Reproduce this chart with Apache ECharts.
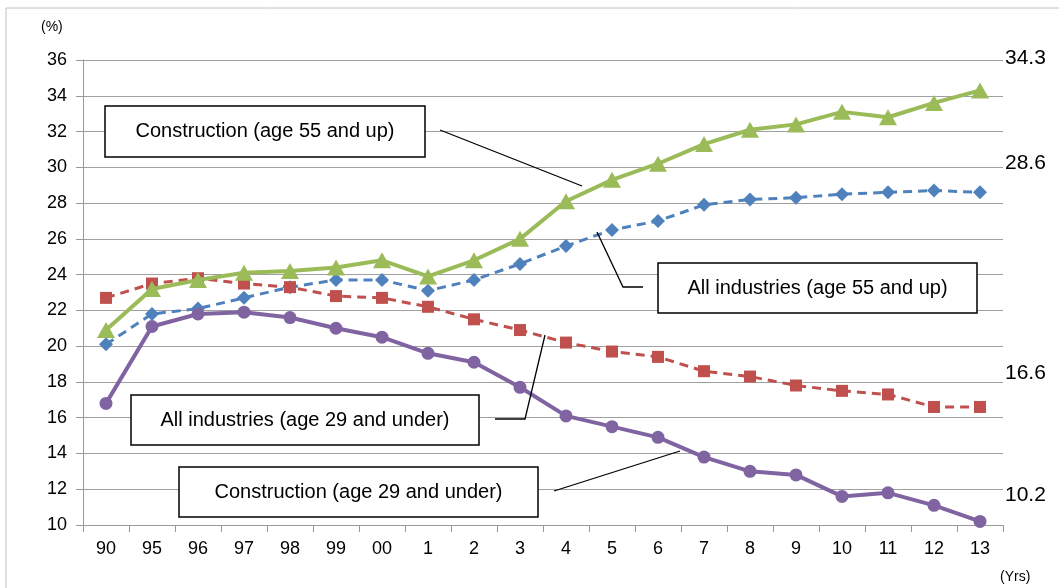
<!DOCTYPE html>
<html>
<head>
<meta charset="utf-8">
<script src="https://cdn.jsdelivr.net/npm/echarts@6/dist/echarts.min.js"></script>
<style>
html,body{margin:0;padding:0;background:#fff;}
#chart{width:1059px;height:588px;}
</style>
</head>
<body>
<div id="chart"></div>
<script>
const categories = ['90','95','96','97','98','99','00','1','2','3','4','5','6','7','8','9','10','11','12','13'];
const allIndustries55Up = [20.1,21.8,22.1,22.7,23.3,23.7,23.7,23.1,23.7,24.6,25.6,26.5,27.0,27.9,28.2,28.3,28.5,28.6,28.7,28.6];
const allIndustries29Under = [22.7,23.5,23.8,23.5,23.3,22.8,22.7,22.2,21.5,20.9,20.2,19.7,19.4,18.6,18.3,17.8,17.5,17.3,16.6,16.6];
const construction55Up = [20.9,23.2,23.7,24.1,24.2,24.4,24.8,23.9,24.8,26.0,28.1,29.3,30.2,31.3,32.1,32.4,33.1,32.8,33.6,34.3];
const construction29Under = [16.8,21.1,21.8,21.9,21.6,21.0,20.5,19.6,19.1,17.7,16.1,15.5,14.9,13.8,13.0,12.8,11.6,11.8,11.1,10.2];
const yTicks = {min:10, max:36, interval:2};

const FONT = '"Liberation Sans", Arial, sans-serif';
const chart = echarts.init(document.getElementById('chart'));

function endLbl(dy){
  return {show:true, formatter: p => String(p.value), color:'#000', fontSize:21, fontFamily:FONT, distance:0, offset:[25,dy]};
}
function box(x,y,w,h,text){
  return [
    {type:'rect', shape:{x:x,y:y,width:w,height:h}, style:{fill:'#fff', stroke:'#000', lineWidth:1.5}, z:100},
    {type:'text', x:x+w/2, y:y+h/2, style:{text:text, fill:'#000', font:'20px '+FONT, align:'center', verticalAlign:'middle'}, z:101}
  ];
}
function leader(points){
  return {type:'polyline', shape:{points:points}, style:{stroke:'#000', lineWidth:1.3, fill:null}, z:99};
}

const option = {
  animation:false,
  backgroundColor:'#fff',
  grid:{left:83, right:56, top:60, bottom:63, containLabel:false},
  xAxis:{
    type:'category', data:categories, boundaryGap:true,
    axisLine:{lineStyle:{color:'#999', width:1}},
    axisTick:{show:true, length:7, lineStyle:{color:'#999'}},
    axisLabel:{color:'#000', fontSize:18, fontFamily:FONT, margin:15}
  },
  yAxis:{
    type:'value', min:yTicks.min, max:yTicks.max, interval:yTicks.interval,
    axisLine:{show:true, lineStyle:{color:'#999', width:1}},
    axisTick:{show:true, length:7, lineStyle:{color:'#999'}},
    axisLabel:{color:'#000', fontSize:18, fontFamily:FONT, margin:16},
    splitLine:{lineStyle:{color:'#a0a0a0', width:1}}
  },
  series:[
    {name:'All industries (age 55 and up)', type:'line', data:allIndustries55Up,
     symbol:'diamond', symbolSize:14, lineStyle:{color:'#4F81BD', width:3, type:[9,6]}, itemStyle:{color:'#4F81BD'},
     endLabel:endLbl(-29), z:2},
    {name:'All industries (age 29 and under)', type:'line', data:allIndustries29Under,
     symbol:'rect', symbolSize:12, lineStyle:{color:'#C0504D', width:3, type:[9,6]}, itemStyle:{color:'#C0504D'},
     endLabel:endLbl(-34), z:3},
    {name:'Construction (age 55 and up)', type:'line', data:construction55Up,
     symbol:'triangle', symbolSize:[18,16], lineStyle:{color:'#9BBB59', width:4}, itemStyle:{color:'#9BBB59'},
     endLabel:endLbl(-32), z:4},
    {name:'Construction (age 29 and under)', type:'line', data:construction29Under,
     symbol:'circle', symbolSize:13, lineStyle:{color:'#8064A2', width:4}, itemStyle:{color:'#8064A2'},
     endLabel:endLbl(-26), z:5}
  ],
  graphic:[
    {type:'rect', shape:{x:6,y:8,width:1060,height:600}, style:{fill:null, stroke:'#c0c0c0', lineWidth:1}, z:0, silent:true},
    {type:'text', x:41, y:27, style:{text:'(%)', fill:'#000', font:'14px '+FONT, verticalAlign:'middle'}},
    {type:'text', x:1000, y:577, style:{text:'(Yrs)', fill:'#000', font:'14px '+FONT, verticalAlign:'middle'}},
    leader([[440,130],[582,186]]),
    leader([[597,232],[623,287],[643,287]]),
    leader([[495,419],[525,419],[545,335]]),
    leader([[554,491],[680,451]]),
    ...box(105,106,320,51,'Construction (age 55 and up)'),
    ...box(658,263,319,50,'All industries (age 55 and up)'),
    ...box(131,395,348,50,'All industries (age 29 and under)'),
    ...box(179,467,359,50,'Construction (age 29 and under)')
  ]
};
chart.setOption(option);
</script>
</body>
</html>
